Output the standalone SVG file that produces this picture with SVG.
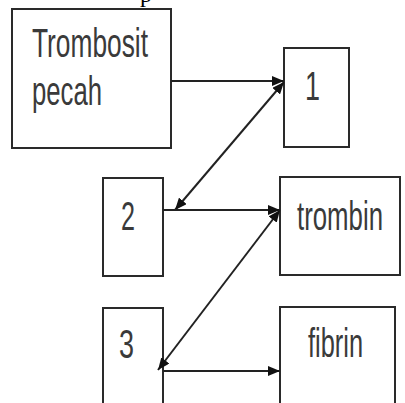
<svg xmlns="http://www.w3.org/2000/svg" width="405" height="403" viewBox="0 0 405 403">
<defs>
<style>
.box{fill:#fff;stroke:#2a2a2a;stroke-width:2}
.lbl{font-family:"Liberation Sans",Arial,sans-serif;font-size:40px;fill:#3a3a3a}
.con{stroke:#222;stroke-width:2;fill:none}
</style>
<marker id="ah" viewBox="0 0 12 10" refX="12" refY="5" markerWidth="12" markerHeight="10" markerUnits="userSpaceOnUse" orient="auto-start-reverse">
<path d="M0,0 L12,5 L0,10 Z" fill="#111"/>
</marker>
</defs>
<rect width="405" height="403" fill="#fff"/>
<text x="140" y="2" font-family="Liberation Serif,serif" font-size="24" fill="#000">p</text>
<g id="node-trombosit">
<rect class="box" x="12" y="9" width="159" height="139"/>
<text class="lbl" x="32" y="57" textLength="116" lengthAdjust="spacingAndGlyphs">Trombosit</text>
<text class="lbl" x="32" y="105" textLength="70" lengthAdjust="spacingAndGlyphs">pecah</text>
</g>
<g id="node-1">
<rect class="box" x="284" y="48" width="65" height="99"/>
<text class="lbl" x="305" y="100" textLength="15" lengthAdjust="spacingAndGlyphs">1</text>
</g>
<g id="node-2">
<rect class="box" x="103" y="178" width="60" height="98"/>
<text class="lbl" x="121" y="230" textLength="14" lengthAdjust="spacingAndGlyphs">2</text>
</g>
<g id="node-trombin">
<rect class="box" x="280" y="177" width="120" height="98"/>
<text class="lbl" x="297" y="230" textLength="86" lengthAdjust="spacingAndGlyphs">trombin</text>
</g>
<g id="node-3">
<rect class="box" x="103" y="308" width="60" height="110"/>
<text class="lbl" x="119" y="358" textLength="15" lengthAdjust="spacingAndGlyphs">3</text>
</g>
<g id="node-fibrin">
<rect class="box" x="280" y="307" width="115" height="110"/>
<text class="lbl" x="308" y="357" textLength="55" lengthAdjust="spacingAndGlyphs">fibrin</text>
</g>
<g id="connectors">
<line class="con" x1="171" y1="81" x2="284" y2="81" marker-end="url(#ah)"/>
<line class="con" x1="175" y1="210" x2="284" y2="82" marker-start="url(#ah)" marker-end="url(#ah)"/>
<line class="con" x1="163" y1="210" x2="280" y2="210" marker-end="url(#ah)"/>
<line class="con" x1="158" y1="370" x2="280" y2="210" marker-start="url(#ah)" marker-end="url(#ah)"/>
<line class="con" x1="163" y1="371" x2="280" y2="371" marker-end="url(#ah)"/>
</g>
</svg>
